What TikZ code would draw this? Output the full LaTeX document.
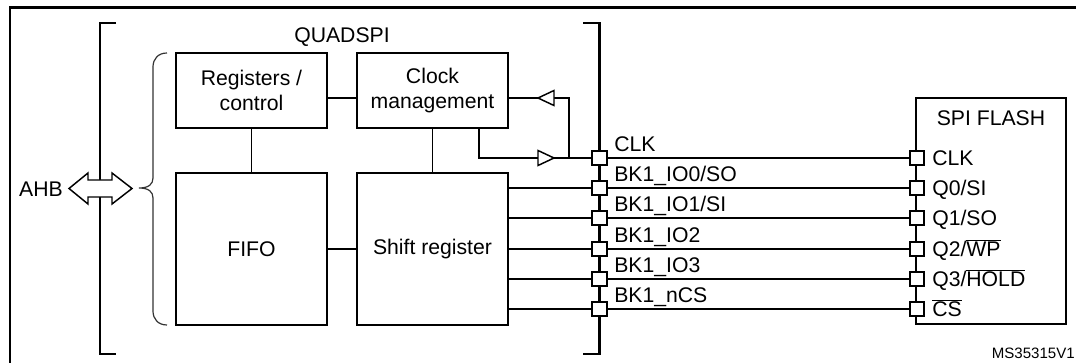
\documentclass[tikz,border=0pt]{standalone}
\usepackage{fontspec}
\setmainfont{Liberation Sans}
\usetikzlibrary{calc}
\begin{document}
\begin{tikzpicture}[x=0.75pt,y=-0.75pt,
  txt/.style={font=\fontsize{15.9}{18.8}\selectfont, align=center},
  blk/.style={draw, line width=1.8pt, outer sep=0pt, inner sep=0pt, minimum width=113.25pt, txt},
  ln/.style={line width=1.1pt},
  brk/.style={line width=1.8pt},
  pinsq/.style={draw, fill=white, line width=1.5pt, minimum size=11pt, inner sep=0pt, outer sep=0pt},
  lbl/.style={font=\fontsize{15.9}{18.8}\selectfont, inner sep=0pt, anchor=base west},
  tri/.style={draw, fill=white, line width=1.1pt}
]
\useasboundingbox (0,0) rectangle (1076,363);
% outer frame
\draw[line width=2.2pt] (1076,7.5) -- (10,7.5) -- (10,363);
% brackets of QUADSPI
\draw[brk] (116,23) -- (100,23) -- (100,354) -- (116,354);
\draw[brk] (583,23) -- (599.5,23) -- (599.5,354) -- (583,354);
\node[txt] (title) at (342,37) {QUADSPI};
% curly brace
\draw[line width=0.9pt, black!80] (167,53) .. controls (158,53) and (153,59) .. (153,67) -- (153,178)
   .. controls (153,184) and (149,188) .. (139,188)
   .. controls (149,188) and (153,192) .. (153,198) -- (153,311)
   .. controls (153,319) and (158,325) .. (167,325);
% blocks
\node[blk, minimum height=56.25pt] (reg) at (251.5,90.5) {Registers /\\control};
\node[blk, minimum height=56.25pt] (clk) at (432.5,90.5) {Clock\\management};
\node[blk, minimum height=114pt] (fifo) at (251.5,249) {FIFO};
\node[blk, minimum height=114pt] (sr) at (432.5,249) {Shift register};
% block connections
\draw[ln] ($(reg.east)+(0,7.5)$) -- ($(clk.west)+(0,7.5)$);
\draw[ln] (reg) -- (fifo);
\draw[ln] (clk) -- (sr);
\draw[ln] (fifo) -- (sr);
% SPI FLASH box
\node[draw, line width=1.8pt, minimum width=112.5pt, minimum height=169.5pt, inner sep=0pt, outer sep=0pt] (flash) at (991,211) {};
\node[txt] (flashlbl) at (991,118) {SPI FLASH};
% pins
\foreach \i/\y in {0/158,1/188,2/218,3/249,4/279,5/309}{
  \coordinate (qy\i) at (599.5,\y);
  \coordinate (fy\i) at (917,\y);
}
% clock feedback
\coordinate (tA) at (546,98);
\coordinate (tB) at (546,158);
\coordinate (fb) at (569,98);
\draw[ln] ($(clk.east)+(0,7.5)$) -- ($(tA)+(-8,0)$);
\draw[ln] ($(tA)+(8,0)$) -- (fb) -- (fb |- tB);
\draw[ln] ($(clk.south)+(46.5,0)$) |- ($(tB)+(-8,0)$);
\draw[ln] ($(tB)+(8,0)$) -- (qy0);
\draw[tri] ($(tA)+(-8,0)$) -- ($(tA)+(8,-7.5)$) -- ($(tA)+(8,7.5)$) -- cycle;
\draw[tri] ($(tB)+(8,0)$) -- ($(tB)+(-8,-7.5)$) -- ($(tB)+(-8,7.5)$) -- cycle;
% signal lines
\foreach \i in {0,...,5}{
  \draw[ln] (qy\i) -- (fy\i);
}
\foreach \i in {1,...,5}{
  \draw[ln] (sr.east |- qy\i) -- (qy\i);
}
\foreach \i in {0,...,5}{
  \node[pinsq] (q\i) at (qy\i) {};
  \node[pinsq] (f\i) at (fy\i) {};
}
% QUADSPI pin labels
\node[lbl] (ql0) at ($(qy0)+(14.5,-6)$) {CLK};
\node[lbl] (ql1) at ($(qy1)+(14.5,-6)$) {BK1\_IO0/SO};
\node[lbl] (ql2) at ($(qy2)+(14.5,-6)$) {BK1\_IO1/SI};
\node[lbl] (ql3) at ($(qy3)+(14.5,-6)$) {BK1\_IO2};
\node[lbl] (ql4) at ($(qy4)+(14.5,-6)$) {BK1\_IO3};
\node[lbl] (ql5) at ($(qy5)+(14.5,-6)$) {BK1\_nCS};
% flash pin labels
\node[lbl] (fl0) at ($(fy0)+(15,8)$) {CLK};
\node[lbl] (fl1) at ($(fy1)+(15,8)$) {Q0/SI};
\node[lbl] (fl2) at ($(fy2)+(15,8)$) {Q1/SO};
\node[lbl] (fl3) at ($(fy3)+(15,8)$) {Q2/$\overline{\hbox{WP}}$};
\node[lbl] (fl4) at ($(fy4)+(15,8)$) {Q3/$\overline{\hbox{HOLD}}$};
\node[lbl] (fl5) at ($(fy5)+(15,8)$) {$\overline{\hbox{CS}}$};
% AHB
\node[txt, anchor=east, inner sep=0pt] (ahb) at (63,189) {AHB};
\draw[line width=1.1pt, fill=white] (69,188.5) -- (88,173) -- (88,180) -- (112,180) -- (112,173) -- (132,188.5)
  -- (112,204) -- (112,197) -- (88,197) -- (88,204) -- cycle;
% reference
\node[font=\fontsize{11.3}{13}\selectfont, inner sep=0pt, anchor=base east] (ref) at (1075,359) {MS35315V1};
\end{tikzpicture}
\end{document}
